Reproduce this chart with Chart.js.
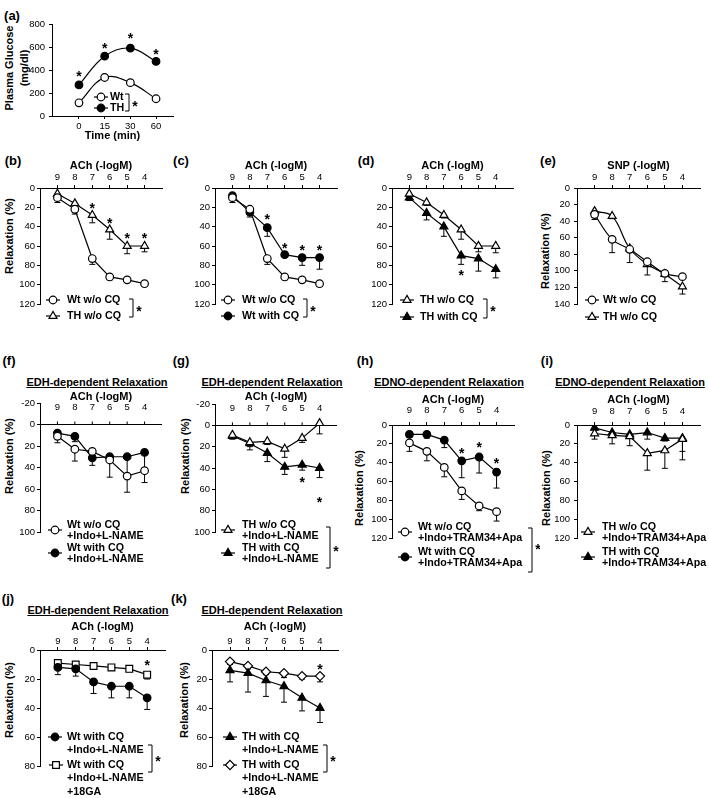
<!DOCTYPE html>
<html>
<head>
<meta charset="utf-8">
<script src="https://cdn.jsdelivr.net/npm/chart.js@4.4.1/dist/chart.umd.min.js"></script>
<style>
  html, body { margin: 0; padding: 0; background: #fff; }
  body { width: 709px; height: 798px; position: relative; overflow: hidden; font-family: "Liberation Sans", Arial, sans-serif; color: #000; }
  canvas { position: absolute; }
  .lbl { position: absolute; transform: translate(-50%, -50%); white-space: nowrap; font-weight: bold; }
  .letter { font-size: 13px; }
  .ptitle { font-size: 11px; text-decoration: underline; }
  .ytitle { font-size: 11px; line-height: 15px; text-align: center; transform: translate(-50%, -50%) rotate(-90deg); }
</style>
</head>
<body>
<div class="lbl letter" style="left:12px;top:15px">(a)</div>
<div class="lbl letter" style="left:13px;top:160px">(b)</div>
<div class="lbl letter" style="left:181px;top:160px">(c)</div>
<div class="lbl letter" style="left:366px;top:160px">(d)</div>
<div class="lbl letter" style="left:548px;top:160px">(e)</div>
<div class="lbl letter" style="left:9px;top:360px">(f)</div>
<div class="lbl letter" style="left:181px;top:360px">(g)</div>
<div class="lbl letter" style="left:365px;top:360px">(h)</div>
<div class="lbl letter" style="left:547px;top:360px">(i)</div>
<div class="lbl letter" style="left:8px;top:598px">(j)</div>
<div class="lbl letter" style="left:179px;top:598px">(k)</div>

<div class="lbl ptitle" style="left:97px;top:382px">EDH-dependent Relaxation</div>
<div class="lbl ptitle" style="left:272px;top:382px">EDH-dependent Relaxation</div>
<div class="lbl ptitle" style="left:449px;top:382px">EDNO-dependent Relaxation</div>
<div class="lbl ptitle" style="left:630px;top:382px">EDNO-dependent Relaxation</div>
<div class="lbl ptitle" style="left:98px;top:610px">EDH-dependent Relaxation</div>
<div class="lbl ptitle" style="left:272px;top:610px">EDH-dependent Relaxation</div>

<div class="lbl ytitle" style="left:17px;top:68px">Plasma Glucose<br>(mg/dl)</div>
<div class="lbl ytitle" style="left:9px;top:236px">Relaxation (%)</div>
<div class="lbl ytitle" style="left:545px;top:251px">Relaxation (%)</div>
<div class="lbl ytitle" style="left:9px;top:456px">Relaxation (%)</div>
<div class="lbl ytitle" style="left:185px;top:456px">Relaxation (%)</div>
<div class="lbl ytitle" style="left:359px;top:488px">Relaxation (%)</div>
<div class="lbl ytitle" style="left:546px;top:488px">Relaxation (%)</div>
<div class="lbl ytitle" style="left:9px;top:700px">Relaxation (%)</div>
<div class="lbl ytitle" style="left:184px;top:700px">Relaxation (%)</div>

<script>
// ACh / SNP concentrations (-logM)
const doses = [9, 8, 7, 6, 5, 4];

// (a) plasma glucose
const timeLabels = ['0', '15', '30', '60'];
const glucoseWt = [115, 335, 290, 150];
const glucoseTH = [270, 520, 590, 475];
const glucoseStars = [376, 617, 704, 568];

// (b)
const bWt = [10, 22, 73, 92, 95, 99];
const bWtErr = [5, 5, 6, 3, 1, 3];
const bTH = [6, 16, 28, 43, 60, 60];
const bTHErr = [5, 3, 8, 10, 8, 6];
const bStars = [null, null, 18, 33, 49, 49];

// (c)
const cWt = [10, 22, 73, 92, 95, 99];
const cWtErr = [5, 5, 6, 3, 1, 3];
const cCQ = [8, 25, 41, 69, 72, 72];
const cCQErr = [3, 5, 9, 2, 8, 12];
const cStars = [null, null, 29, 59, 61, 61];

// (d)
const dTH = [6, 15, 28, 43, 60, 60];
const dTHErr = [3, 3, 3, 10, 6, 7];
const dCQ = [10, 26, 40, 70, 73, 84];
const dCQErr = [3, 7, 10, 9, 13, 9];
const dStars = [null, null, null, 87, null, null];

// (e) SNP
const eWt = [32, 62, 74, 89, 103, 107];
const eWtErr = [6, 16, 4, 3, 4, 2];
const eTH = [28, 34, 73, 92, 104, 119];
const eTHErr = [4, 3, 17, 13, 9, 9];

// (f)
const fWt = [11, 23, 25, 33, 48, 43];
const fWtErr = [6, 11, 3, 16, 15, 11];
const fCQ = [8, 11, 31, 30, 30, 26];
const fCQErr = [3, 5, 7, 3, 18, 17];

// (g)
const gTH = [9, 16, 15, 22, 12, -2];
const gTHErr = [3, 4, 3, 8, 4, 10];
const gCQ = [10, 17, 26, 39, 37, 40];
const gCQErr = [3, 6, 8, 7, 5, 9];
const gStars = [null, null, null, null, 50, 69];

// (h)
const hWt = [19, 28, 45, 70, 86, 92];
const hWtErr = [9, 10, 10, 9, 5, 10];
const hCQ = [10, 10, 16, 38, 34, 50];
const hCQErr = [3, 4, 8, 18, 17, 17];
const hStars = [null, null, null, 27, 20, 37];

// (i)
const iTH = [9, 11, 12, 30, 27, 15];
const iTHErr = [6, 9, 10, 18, 19, 22];
const iCQ = [3, 8, 10, 8, 14, 14];
const iCQErr = [2, 3, 3, 7, 3, 14];

// (j)
const jCQ = [12, 13, 22, 25, 25, 33];
const jCQErr = [5, 5, 8, 8, 8, 8];
const jGA = [9, 10, 11, 12, 13, 17];
const jGAErr = [2, 2, 2, 2, 2, 3];
const jStars = [null, null, null, null, null, 8];

// (k)
const kCQ = [14, 16, 21, 25, 33, 40];
const kCQErr = [8, 13, 11, 11, 9, 10];
const kGA = [8, 11, 15, 16, 18, 18];
const kGAErr = [2, 2, 2, 3, 2, 4];
const kStars = [null, null, null, null, null, 11];

const FAMILY = '"Liberation Sans", Arial, sans-serif';
const tickFont = { family: FAMILY, size: 9.5 };
const titleFont = { family: FAMILY, size: 11, weight: 'bold', lineHeight: 1.2 };
const legendFont = 'bold 10.7px ' + FAMILY;

function radiusFor(style) {
  if (style === 'circle') return 3.8;
  if (style === 'rect') return 4.8;
  return 4.6;
}

function drawMarker(ctx, style, filled, x, y) {
  ctx.fillStyle = filled ? '#000' : '#fff';
  ctx.strokeStyle = '#000';
  ctx.lineWidth = 1.2;
  if (Chart.helpers && Chart.helpers.drawPoint) {
    Chart.helpers.drawPoint(ctx, { pointStyle: style, radius: radiusFor(style), rotation: 0, borderWidth: 1.2 }, x, y);
  } else {
    ctx.beginPath();
    ctx.arc(x, y, radiusFor(style), 0, Math.PI * 2);
    ctx.fill();
    ctx.stroke();
  }
}

function line(ctx, x1, y1, x2, y2) {
  ctx.beginPath();
  ctx.moveTo(x1, y1);
  ctx.lineTo(x2, y2);
  ctx.stroke();
}

// error bars, stars, legends
function extras(spec, xs) {
  return {
    id: 'extras',
    beforeDatasetsDraw(chart) {
      const ctx = chart.ctx, ys = chart.scales.y, xsc = chart.scales.x;
      ctx.save();
      ctx.strokeStyle = '#000';
      ctx.lineWidth = 1;
      if (spec.zero) {
        const y0 = ys.getPixelForValue(0);
        xs.forEach(v => {
          const x = xsc.getPixelForValue(v);
          line(ctx, x, y0 - 3, x, y0);
        });
      }
      chart.data.datasets.forEach((ds, di) => {
        if (!ds.errors) return;
        const meta = chart.getDatasetMeta(di);
        meta.data.forEach((pt, i) => {
          const e = ds.errors[i];
          if (!e) return;
          const yEnd = ys.getPixelForValue(ds.data[i].y + e);
          line(ctx, pt.x, pt.y, pt.x, yEnd);
          line(ctx, pt.x - 3, yEnd, pt.x + 3, yEnd);
        });
      });
      ctx.restore();
    },
    afterDatasetsDraw(chart) {
      if (!spec.stars) return;
      const ctx = chart.ctx, ys = chart.scales.y, xsc = chart.scales.x;
      ctx.save();
      ctx.fillStyle = '#000';
      ctx.font = 'bold 14px ' + FAMILY;
      ctx.textAlign = 'center';
      ctx.textBaseline = 'alphabetic';
      spec.stars.forEach((v, i) => {
        if (v === null) return;
        ctx.fillText('*', xsc.getPixelForValue(xs[i]), ys.getPixelForValue(v) + 8);
      });
      ctx.restore();
    },
    afterDraw(chart) {
      const L = spec.legend;
      if (!L) return;
      const ctx = chart.ctx;
      ctx.save();
      ctx.translate(-spec.box.x, -spec.box.y);
      L.entries.forEach(e => {
        ctx.strokeStyle = '#000';
        ctx.lineWidth = 1.2;
        line(ctx, e.mx - 7, e.my, e.mx + 7, e.my);
        drawMarker(ctx, e.style, e.filled, e.mx, e.my);
        ctx.fillStyle = '#000';
        ctx.font = legendFont;
        ctx.textAlign = 'left';
        ctx.textBaseline = 'middle';
        e.lines.forEach((t, k) => ctx.fillText(t, e.tx, e.ty + k * (L.gap || 0)));
      });
      const b = L.bracket;
      if (b) {
        ctx.strokeStyle = '#000';
        ctx.lineWidth = 1;
        ctx.beginPath();
        ctx.moveTo(b.x - 4, b.y1);
        ctx.lineTo(b.x, b.y1);
        ctx.lineTo(b.x, b.y2);
        ctx.lineTo(b.x - 4, b.y2);
        ctx.stroke();
        ctx.fillStyle = '#000';
        ctx.font = 'bold 14px ' + FAMILY;
        ctx.textAlign = 'center';
        ctx.textBaseline = 'alphabetic';
        ctx.fillText('*', b.sx, b.sy + 8);
      }
      ctx.restore();
    }
  };
}

function buildChart(spec) {
  const { box, area } = spec;
  const canvas = document.createElement('canvas');
  canvas.width = box.w;
  canvas.height = box.h;
  canvas.style.left = box.x + 'px';
  canvas.style.top = box.y + 'px';
  canvas.style.width = box.w + 'px';
  canvas.style.height = box.h + 'px';
  document.body.appendChild(canvas);

  const isTime = spec.kind === 'time';
  const xs = isTime ? timeLabels.map((_, i) => i) : doses;
  const yTicks = [];
  for (let v = spec.yMin; v <= spec.yMax; v += spec.yStep) yTicks.push(v);
  const lh = tickFont.size * 1.2;
  const tl = spec.zero ? 0 : 3;

  let xScale;
  if (isTime) {
    xScale = {
      type: 'linear', position: 'bottom', min: -1.05, max: 3.66,
      afterBuildTicks: s => { s.ticks = xs.map(v => ({ value: v })); },
      afterFit: s => { s.height = box.y + box.h - area.b; },
      ticks: { font: tickFont, color: '#000', padding: spec.xLabelY - area.b - tl - lh / 2,
               autoSkip: false, maxRotation: 0, callback: v => timeLabels[v] },
      grid: { drawOnChartArea: false, tickLength: 3, color: '#000' },
      border: { color: '#000', width: 1 },
      title: { display: true, text: spec.xTitle, font: titleFont, color: '#000',
               padding: { top: 0, bottom: box.y + box.h - spec.xTitleY - 6.6 } }
    };
  } else {
    // in (f) and (g) the labels sit inside the plot, between -20 and 0;
    // mirror lifts the label clip and then the padding counts inward
    const labelPad = spec.zero ? spec.xLabelY - area.t - lh / 2
                               : area.t - tl - lh / 2 - spec.xLabelY;
    xScale = {
      type: 'linear', position: 'top', reverse: true, min: 3, max: 10,
      afterBuildTicks: s => { s.ticks = xs.map(v => ({ value: v })); },
      afterFit: s => { s.height = area.t - box.y; },
      ticks: { font: tickFont, color: '#000', padding: labelPad,
               mirror: !!spec.zero, autoSkip: false, maxRotation: 0, callback: v => String(v) },
      grid: spec.zero ? { display: false, drawTicks: false }
                      : { drawOnChartArea: false, tickLength: 3, color: '#000' },
      border: { display: !spec.zero, color: '#000', width: 1 },
      title: { display: true, text: spec.xTitle, font: titleFont, color: '#000',
               padding: { top: spec.xTitleY - box.y - 6.6, bottom: 0 } }
    };
  }

  const yScale = {
    type: 'linear', reverse: !isTime, min: spec.yMin, max: spec.yMax,
    afterBuildTicks: s => { s.ticks = yTicks.map(v => ({ value: v })); },
    afterFit: s => { s.width = area.l - box.x; },
    ticks: { font: tickFont, color: '#000', padding: spec.yPad || 2 },
    grid: {
      drawOnChartArea: !!spec.zero,
      color: c => (spec.zero && c.tick && c.tick.value === 0) ? '#000' : 'rgba(0,0,0,0)',
      tickColor: '#000', tickLength: 3, lineWidth: 1
    },
    border: { color: '#000', width: 1 }
  };

  const datasets = spec.series.map(s => ({
    data: xs.map((x, i) => ({ x, y: s.values[i] })),
    errors: s.errors,
    borderColor: '#000',
    borderWidth: 1.2,
    tension: s.tension || 0,
    fill: false,
    pointStyle: s.style,
    pointRadius: radiusFor(s.style),
    pointHoverRadius: radiusFor(s.style),
    pointBackgroundColor: s.filled ? '#000' : '#fff',
    pointBorderColor: '#000',
    pointBorderWidth: 1.2
  }));

  return new Chart(canvas, {
    type: 'line',
    data: { datasets },
    plugins: [extras(spec, xs)],
    options: {
      responsive: false,
      animation: false,
      devicePixelRatio: 1,
      events: [],
      layout: {
        autoPadding: false,
        padding: {
          left: 0,
          top: isTime ? area.t - box.y : 0,
          right: box.x + box.w - area.r,
          bottom: isTime ? 0 : box.y + box.h - area.b
        }
      },
      plugins: { legend: { display: false }, tooltip: { enabled: false } },
      scales: { x: xScale, y: yScale }
    }
  });
}

const ROW1 = { xTitleY: 166, xLabelY: 177 };

const panels = [
  { kind: 'time', box: { x: 0, y: 0, w: 200, h: 145 }, area: { l: 52, t: 24, r: 173, b: 116 },
    yMin: 0, yMax: 800, yStep: 200, yPad: 4, xTitle: 'Time (min)', xTitleY: 136, xLabelY: 126,
    series: [
      { values: glucoseWt, style: 'circle', filled: false, tension: 0.4 },
      { values: glucoseTH, style: 'circle', filled: true, tension: 0.4 }
    ],
    stars: glucoseStars,
    legend: {
      entries: [
        { style: 'circle', filled: false, mx: 101, my: 97, tx: 110, ty: 97, lines: ['Wt'] },
        { style: 'circle', filled: true, mx: 101, my: 108, tx: 110, ty: 108, lines: ['TH'] }
      ],
      bracket: { x: 129, y1: 94, y2: 111, sx: 135, sy: 103 }
    } },

  Object.assign({ box: { x: 0, y: 145, w: 175, h: 200 }, area: { l: 40, t: 188, r: 162, b: 304 },
    yMin: 0, yMax: 120, yStep: 20, xTitle: 'ACh (-logM)',
    series: [
      { values: bWt, errors: bWtErr, style: 'circle', filled: false },
      { values: bTH, errors: bTHErr, style: 'triangle', filled: false }
    ],
    stars: bStars,
    legend: {
      entries: [
        { style: 'circle', filled: false, mx: 53, my: 300, tx: 67, ty: 300, lines: ['Wt w/o CQ'] },
        { style: 'triangle', filled: false, mx: 53, my: 316, tx: 67, ty: 316, lines: ['TH w/o CQ'] }
      ],
      bracket: { x: 133, y1: 299, y2: 317, sx: 139, sy: 308 }
    } }, ROW1),

  Object.assign({ box: { x: 175, y: 145, w: 175, h: 200 }, area: { l: 215, t: 188, r: 337, b: 304 },
    yMin: 0, yMax: 120, yStep: 20, xTitle: 'ACh (-logM)',
    series: [
      { values: cWt, errors: cWtErr, style: 'circle', filled: false },
      { values: cCQ, errors: cCQErr, style: 'circle', filled: true }
    ],
    stars: cStars,
    legend: {
      entries: [
        { style: 'circle', filled: false, mx: 228, my: 300, tx: 242, ty: 300, lines: ['Wt w/o CQ'] },
        { style: 'circle', filled: true, mx: 228, my: 316, tx: 242, ty: 316, lines: ['Wt with CQ'] }
      ],
      bracket: { x: 307, y1: 299, y2: 317, sx: 313, sy: 308 }
    } }, ROW1),

  Object.assign({ box: { x: 350, y: 145, w: 170, h: 200 }, area: { l: 392, t: 188, r: 513, b: 304 },
    yMin: 0, yMax: 120, yStep: 20, xTitle: 'ACh (-logM)',
    series: [
      { values: dTH, errors: dTHErr, style: 'triangle', filled: false },
      { values: dCQ, errors: dCQErr, style: 'triangle', filled: true }
    ],
    stars: dStars,
    legend: {
      entries: [
        { style: 'triangle', filled: false, mx: 407, my: 300, tx: 420, ty: 300, lines: ['TH w/o CQ'] },
        { style: 'triangle', filled: true, mx: 407, my: 317, tx: 420, ty: 317, lines: ['TH with CQ'] }
      ],
      bracket: { x: 487, y1: 299, y2: 318, sx: 493, sy: 308 }
    } }, ROW1),

  Object.assign({ box: { x: 520, y: 145, w: 189, h: 200 }, area: { l: 577, t: 188, r: 700, b: 304 },
    yMin: 0, yMax: 140, yStep: 20, yPad: 4, xTitle: 'SNP (-logM)',
    series: [
      { values: eWt, errors: eWtErr, style: 'circle', filled: false, tension: 0.4 },
      { values: eTH, errors: eTHErr, style: 'triangle', filled: false, tension: 0.4 }
    ],
    legend: {
      entries: [
        { style: 'circle', filled: false, mx: 592, my: 300, tx: 603, ty: 300, lines: ['Wt w/o CQ'] },
        { style: 'triangle', filled: false, mx: 592, my: 317, tx: 603, ty: 317, lines: ['TH w/o CQ'] }
      ]
    } }, ROW1),

  { box: { x: 0, y: 345, w: 175, h: 230 }, area: { l: 40, t: 403, r: 162, b: 532 }, zero: true,
    yMin: -20, yMax: 100, yStep: 20, xTitle: 'ACh (-logM)', xTitleY: 397, xLabelY: 407,
    series: [
      { values: fWt, errors: fWtErr, style: 'circle', filled: false },
      { values: fCQ, errors: fCQErr, style: 'circle', filled: true }
    ],
    legend: {
      gap: 11,
      entries: [
        { style: 'circle', filled: false, mx: 55, my: 530, tx: 67, ty: 525, lines: ['Wt w/o CQ', '+Indo+L-NAME'] },
        { style: 'circle', filled: true, mx: 55, my: 553, tx: 67, ty: 548, lines: ['Wt with CQ', '+Indo+L-NAME'] }
      ]
    } },

  { box: { x: 175, y: 345, w: 175, h: 230 }, area: { l: 215, t: 404, r: 337, b: 532 }, zero: true,
    yMin: -20, yMax: 100, yStep: 20, xTitle: 'ACh (-logM)', xTitleY: 397, xLabelY: 408,
    series: [
      { values: gTH, errors: gTHErr, style: 'triangle', filled: false },
      { values: gCQ, errors: gCQErr, style: 'triangle', filled: true }
    ],
    stars: gStars,
    legend: {
      gap: 11,
      entries: [
        { style: 'triangle', filled: false, mx: 228, my: 530, tx: 242, ty: 525, lines: ['TH w/o CQ', '+Indo+L-NAME'] },
        { style: 'triangle', filled: true, mx: 228, my: 553, tx: 242, ty: 548, lines: ['TH with CQ', '+Indo+L-NAME'] }
      ],
      bracket: { x: 330, y1: 527, y2: 568, sx: 336, sy: 548 }
    } },

  { box: { x: 350, y: 345, w: 190, h: 230 }, area: { l: 392, t: 425, r: 514, b: 538 },
    yMin: 0, yMax: 120, yStep: 20, xTitle: 'ACh (-logM)', xTitleY: 400, xLabelY: 410,
    series: [
      { values: hWt, errors: hWtErr, style: 'circle', filled: false },
      { values: hCQ, errors: hCQErr, style: 'circle', filled: true }
    ],
    stars: hStars,
    legend: {
      gap: 11.5,
      entries: [
        { style: 'circle', filled: false, mx: 405, my: 532, tx: 418, ty: 527, lines: ['Wt w/o CQ', '+Indo+TRAM34+Apa'] },
        { style: 'circle', filled: true, mx: 405, my: 557, tx: 418, ty: 552, lines: ['Wt with CQ', '+Indo+TRAM34+Apa'] }
      ],
      bracket: { x: 532, y1: 528, y2: 572, sx: 538, sy: 546 }
    } },

  { box: { x: 520, y: 345, w: 189, h: 230 }, area: { l: 577, t: 425, r: 700, b: 538 },
    yMin: 0, yMax: 120, yStep: 20, yPad: 4, xTitle: 'ACh (-logM)', xTitleY: 400, xLabelY: 411,
    series: [
      { values: iTH, errors: iTHErr, style: 'triangle', filled: false },
      { values: iCQ, errors: iCQErr, style: 'triangle', filled: true }
    ],
    legend: {
      gap: 11.5,
      entries: [
        { style: 'triangle', filled: false, mx: 588, my: 532, tx: 602, ty: 527, lines: ['TH w/o CQ', '+Indo+TRAM34+Apa'] },
        { style: 'triangle', filled: true, mx: 588, my: 557, tx: 602, ty: 552, lines: ['TH with CQ', '+Indo+TRAM34+Apa'] }
      ]
    } },

  { box: { x: 0, y: 565, w: 175, h: 233 }, area: { l: 40, t: 650, r: 165, b: 766 },
    yMin: 0, yMax: 80, yStep: 20, xTitle: 'ACh (-logM)', xTitleY: 627, xLabelY: 641,
    series: [
      { values: jCQ, errors: jCQErr, style: 'circle', filled: true },
      { values: jGA, errors: jGAErr, style: 'rect', filled: false }
    ],
    stars: jStars,
    legend: {
      gap: 13.5,
      entries: [
        { style: 'circle', filled: true, mx: 55, my: 737, tx: 67, ty: 737, lines: ['Wt with CQ', '+Indo+L-NAME'] },
        { style: 'rect', filled: false, mx: 56, my: 765, tx: 67, ty: 765, lines: ['Wt with CQ', '+Indo+L-NAME', '+18GA'] }
      ],
      bracket: { x: 152, y1: 745, y2: 772, sx: 158, sy: 758 }
    } },

  { box: { x: 175, y: 565, w: 175, h: 233 }, area: { l: 212, t: 650, r: 338, b: 766 },
    yMin: 0, yMax: 80, yStep: 20, xTitle: 'ACh (-logM)', xTitleY: 627, xLabelY: 641,
    series: [
      { values: kCQ, errors: kCQErr, style: 'triangle', filled: true },
      { values: kGA, errors: kGAErr, style: 'rectRot', filled: false }
    ],
    stars: kStars,
    legend: {
      gap: 13.5,
      entries: [
        { style: 'triangle', filled: true, mx: 230, my: 737, tx: 242, ty: 737, lines: ['TH with CQ', '+Indo+L-NAME'] },
        { style: 'rectRot', filled: false, mx: 230, my: 765, tx: 242, ty: 765, lines: ['TH with CQ', '+Indo+L-NAME', '+18GA'] }
      ],
      bracket: { x: 327, y1: 745, y2: 772, sx: 333, sy: 758 }
    } }
];

panels.forEach(buildChart);
</script>
</body>
</html>
